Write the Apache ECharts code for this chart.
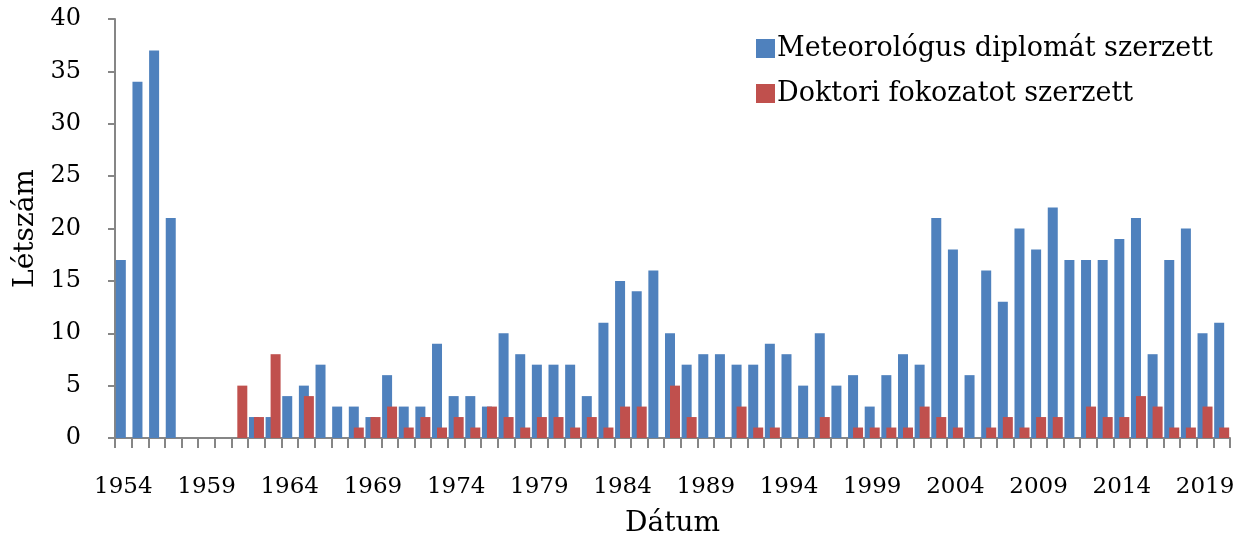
<!DOCTYPE html>
<html><head><meta charset="utf-8">
<script src="https://cdn.jsdelivr.net/npm/echarts@6/dist/echarts.min.js"></script>
<style>html,body{margin:0;padding:0;background:#fff}#c{width:1240px;height:542px}</style>
</head><body><div id="c"></div>
<script>
const years = [];
for (let y = 1954; y <= 2020; y++) years.push(String(y));
const diploma = [17,34,37,21,0,0,0,0,2,2,4,5,7,3,3,2,6,3,3,9,4,4,3,10,8,7,7,7,4,11,15,14,16,10,7,8,8,7,7,9,8,5,10,5,6,3,6,8,7,21,18,6,16,13,20,18,22,17,17,17,19,21,8,17,20,10,11];
const doktori = [0,0,0,0,0,0,0,5,2,8,0,4,0,0,1,2,3,1,2,1,2,1,3,2,1,2,2,1,2,1,3,3,0,5,2,0,0,3,1,1,0,0,2,0,1,1,1,1,3,2,1,0,1,2,1,2,2,0,3,2,2,4,3,1,1,3,1];
const seriesNames = ['Meteorológus diplomát szerzett', 'Doktori fokozatot szerzett'];
const yTicks = {min: 0, max: 40, interval: 5};
const FONT = 'DejaVu Serif';
const chart = echarts.init(document.getElementById('c'), null, {renderer: 'canvas'});
chart.setOption({
  animation: false,
  textStyle: {fontFamily: FONT, color: '#000'},
  grid: {left: 115, right: 10, top: 19, bottom: 104, containLabel: false, outerBoundsMode: 'none'},
  legend: {
    orient: 'vertical', left: 751, top: 30, itemWidth: 19, itemHeight: 19, itemGap: 18,
    icon: 'rect',
    textStyle: {fontFamily: FONT, fontSize: 27, color: '#000', padding: [0,0,0,-3]},
    data: seriesNames
  },
  xAxis: {
    type: 'category', data: years,
    name: 'Dátum', nameLocation: 'middle', nameGap: 72,
    nameTextStyle: {fontFamily: FONT, fontSize: 28, color: '#000'},
    axisLine: {lineStyle: {color: '#868686', width: 2}},
    axisTick: {show: true, interval: 0, length: 10, lineStyle: {color: '#868686', width: 2}},
    axisLabel: {interval: 4, margin: 38, fontFamily: FONT, fontSize: 23, color: '#000'}
  },
  yAxis: {
    type: 'value', min: yTicks.min, max: yTicks.max, interval: yTicks.interval,
    name: 'Létszám', nameLocation: 'middle', nameGap: 74, nameRotate: 90,
    nameTextStyle: {fontFamily: FONT, fontSize: 28, color: '#000'},
    axisLine: {show: true, lineStyle: {color: '#868686', width: 2}},
    axisTick: {show: true, length: 7, lineStyle: {color: '#868686', width: 2}},
    axisLabel: {margin: 34, fontFamily: FONT, fontSize: 24, color: '#000'},
    splitLine: {show: false}
  },
  series: [
    {name: seriesNames[0], type: 'bar', data: diploma, barWidth: 10, barGap: '-50%',
     itemStyle: {color: '#4F81BD'}},
    {name: seriesNames[1], type: 'bar', data: doktori, barWidth: 10,
     itemStyle: {color: '#C0504D'}}
  ]
});
</script></body></html>
